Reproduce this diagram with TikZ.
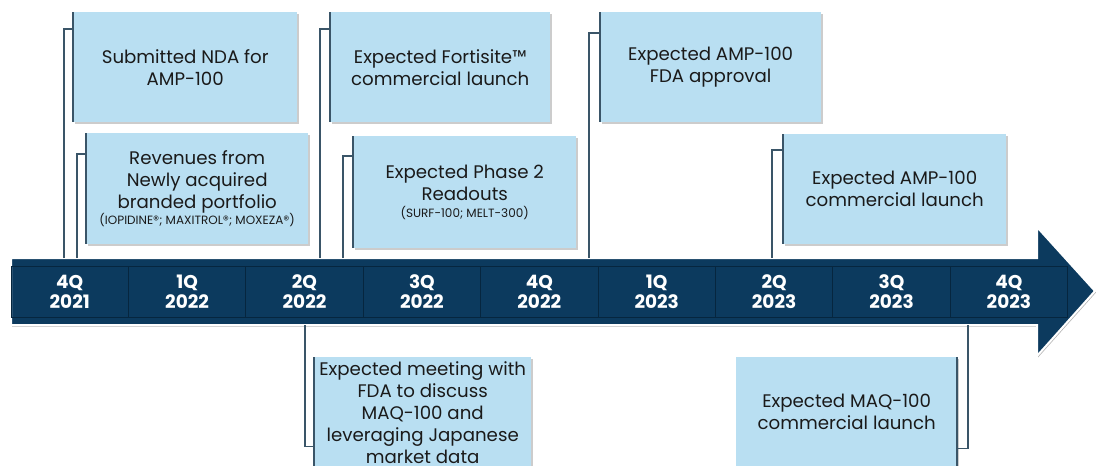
\documentclass[tikz,border=0pt]{standalone}
\usepackage{fontspec}
\setmainfont{Poppins}
\usetikzlibrary{shadows}
\definecolor{boxfill}{HTML}{B9DFF2}
\definecolor{edgecol}{HTML}{3A5568}
\definecolor{band}{HTML}{0C3A5E}
\definecolor{cellline}{HTML}{06263F}
\definecolor{ink}{HTML}{1A1A1A}
\newcommand{\smallnote}[1]{{\fontsize{12}{13}\selectfont #1}}
\begin{document}
\begin{tikzpicture}[x=1pt,y=-1pt,
  evbox/.style={rectangle, fill=boxfill, anchor=north west, inner sep=0pt,
    align=center, text=ink, font=\fontsize{18.2}{22}\selectfont,
    drop shadow={shadow xshift=1.5pt, shadow yshift=-1.5pt, fill=black, opacity=0.2}},
  edgeline/.style={draw=edgecol, line width=2pt},
  link/.style={draw=edgecol, line width=1.2pt},
  datecell/.style={rectangle, draw=cellline, line width=0.8pt, minimum width=117.4pt,
    minimum height=51pt, inner sep=0pt, align=center, text=white,
    font=\bfseries\fontsize{18.5}{20}\selectfont},
]
\useasboundingbox (0,0) rectangle (1096,466);
\clip (0,0) rectangle (1096,466);

% timeline arrow
\path[fill=band, draw=white, line width=2pt,
  drop shadow={shadow xshift=1pt, shadow yshift=-1.5pt, fill=black, opacity=0.3}]
  (11,258) -- (1037,258) -- (1037,227) -- (1095,291) -- (1037,356)
  -- (1037,325) -- (11,325) -- cycle;

% quarter cells
\foreach \i/\q/\yr in {1/4Q/2021,2/1Q/2022,3/2Q/2022,4/3Q/2022,5/4Q/2022,
                       6/1Q/2023,7/2Q/2023,8/3Q/2023,9/4Q/2023}{
  \node[datecell] (q\i) at ({11+117.4*(\i-0.5)},291.5) {\q\\\yr};
}

% anchor points of connectors on the arrow
\coordinate (p1) at (64,258);
\coordinate (p2) at (77,258);
\coordinate (p3) at (320,258);
\coordinate (p4) at (343,258);
\coordinate (p5) at (589,258);
\coordinate (p6) at (772,258);
\coordinate (p7) at (305,325);
\coordinate (p8) at (968,325);

% milestone boxes above the arrow
\node[evbox, minimum width=224pt, minimum height=110pt] (b1) at (73,12)
  {Submitted NDA for\\AMP-100};
\node[evbox, minimum width=222pt, minimum height=111pt] (b2) at (86,133)
  {Revenues from\\Newly acquired\\branded portfolio\\[-6pt]
   \smallnote{(IOPIDINE®; MAXITROL®; MOXEZA®)}};
\node[evbox, minimum width=220pt, minimum height=110pt] (b3) at (330,12)
  {Expected Fortisite™\\commercial launch};
\node[evbox, minimum width=223pt, minimum height=112pt] (b4) at (353,136)
  {Expected Phase 2\\Readouts\\[-5pt]\smallnote{(SURF-100; MELT-300)}};
\node[evbox, minimum width=221pt, minimum height=110pt] (b5) at (600,12)
  {Expected AMP-100\\FDA approval};
\node[evbox, minimum width=223pt, minimum height=110pt] (b6) at (783,134)
  {Expected AMP-100\\commercial launch};

% milestone boxes below the arrow
\node[evbox, minimum width=217pt, minimum height=110pt] (b7) at (314,357)
  {Expected meeting with\\FDA to discuss\\MAQ-100 and\\leveraging Japanese\\market data};
\node[evbox, minimum width=221pt, minimum height=110pt] (b8) at (736,357)
  {Expected MAQ-100\\commercial launch};

% dark edges of the boxes
\foreach \b in {b1,b2,b3,b4,b5,b6,b7}{
  \draw[edgeline] (\b.north west) -- (\b.south west);
}
\draw[edgeline] (b8.north east) -- (b8.south east);

% connectors
\draw[link] (p1) |- ([yshift=-17pt]b1.north west);
\draw[link] (p2) |- ([yshift=-21pt]b2.north west);
\draw[link] (p3) |- ([yshift=-17pt]b3.north west);
\draw[link] (p4) |- ([yshift=-20pt]b4.north west);
\draw[link] (p5) |- ([yshift=-21pt]b5.north west);
\draw[link] (p6) |- ([yshift=-16pt]b6.north west);
\draw[link] (p7) |- ([yshift=21pt]b7.south west);
\draw[link] (p8) |- ([yshift=19pt]b8.south east);
\end{tikzpicture}
\end{document}
